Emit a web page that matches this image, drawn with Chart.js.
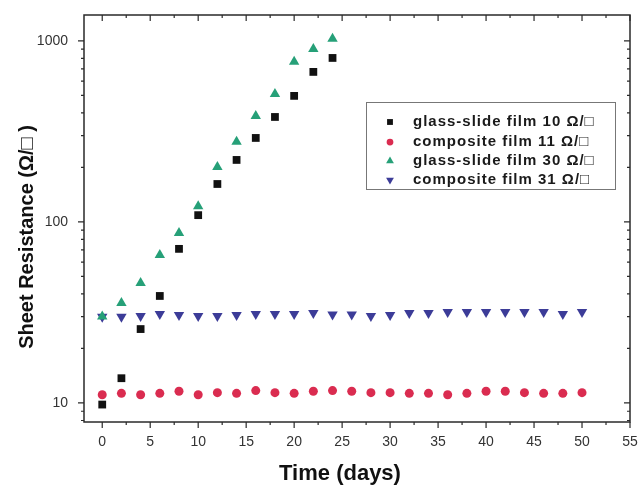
<!DOCTYPE html>
<html>
<head>
<meta charset="utf-8">
<script src="https://cdn.jsdelivr.net/npm/chart.js@4.4.1/dist/chart.umd.min.js"></script>
<style>
  html, body { margin: 0; padding: 0; background: #fff; }
  #wrap { width: 639px; height: 485px; }
</style>
</head>
<body>
<div id="wrap"><canvas id="resChart" width="639" height="485"></canvas></div>
<script>
// dias medidos
const daysShort = [0, 2, 4, 6, 8, 10, 12, 14, 16, 18, 20, 22, 24];
const daysLong = [0, 2, 4, 6, 8, 10, 12, 14, 16, 18, 20, 22, 24, 26, 28, 30, 32, 34, 36, 38, 40, 42, 44, 46, 48, 50];

// resistencia de folha (ohm/sq)
const glass10 = [9.8, 13.7, 25.6, 39, 71, 109, 162, 220, 291, 380, 497, 674, 805];
const glass30 = [30, 35.7, 46, 65.7, 87, 122, 201, 277, 385, 509, 766, 903, 1026];
const comp11 = [11.1, 11.3, 11.1, 11.3, 11.6, 11.1, 11.4, 11.3, 11.7, 11.4, 11.3, 11.6, 11.7,
                11.6, 11.4, 11.4, 11.3, 11.3, 11.1, 11.3, 11.6, 11.6, 11.4, 11.3, 11.3, 11.4];
const comp31 = [29.9, 29.9, 30.2, 31.0, 30.6, 30.2, 30.2, 30.6, 31.0, 31.0, 31.0, 31.4, 30.8,
                30.8, 30.2, 30.6, 31.4, 31.4, 31.8, 31.8, 31.8, 31.8, 31.8, 31.8, 31.0, 31.8];

const seriesNames = ['glass-slide film 10 Ω/□', 'composite film 11 Ω/□', 'glass-slide film 30 Ω/□', 'composite film 31 Ω/□'];
const xTickLabels = [0, 5, 10, 15, 20, 25, 30, 35, 40, 45, 50, 55];
const yTickLabels = [10, 100, 1000];

const toPoints = (xs, ys) => ys.map((y, i) => ({ x: xs[i], y: y }));

const black = '#111111';
const red = '#da2c50';
const green = '#26a078';
const blue = '#3c3c98';

// sem padding extra dos rotulos
const noPad = (s) => { s.paddingLeft = 0; s.paddingRight = 0; s.paddingTop = 0; s.paddingBottom = 0; };

// eixos, ticks de moldura, titulos e legenda
const framePlugin = {
  id: 'frame',
  afterDatasetsDraw(chart) {
    const { ctx, chartArea: a, scales } = chart;
    const xs = scales.x, ys = scales.y;
    ctx.save();
    ctx.strokeStyle = '#2a2a2a';
    ctx.lineWidth = 1.5;
    ctx.strokeRect(a.left, a.top, a.right - a.left, a.bottom - a.top);

    ctx.lineWidth = 1.2;
    ctx.beginPath();
    for (let v = 0; v <= 55; v += 2.5) {
      const px = xs.getPixelForValue(v);
      const len = v % 5 === 0 ? 6 : 3;
      ctx.moveTo(px, a.bottom); ctx.lineTo(px, a.bottom + len);
      ctx.moveTo(px, a.top); ctx.lineTo(px, a.top + len);
    }
    for (let dec = 1; dec <= 1000; dec *= 10) {
      for (let m = 1; m <= 9; m++) {
        const v = dec * m;
        if (v < ys.min || v > ys.max) continue;
        const py = ys.getPixelForValue(v);
        const len = m === 1 ? 6 : 3;
        ctx.moveTo(a.left, py); ctx.lineTo(a.left - len, py);
        ctx.moveTo(a.right, py); ctx.lineTo(a.right - len, py);
      }
    }
    ctx.stroke();

    // titulos
    ctx.fillStyle = '#111';
    ctx.font = 'bold 22px "Liberation Sans", Arial, sans-serif';
    ctx.textAlign = 'center';
    ctx.textBaseline = 'alphabetic';
    ctx.fillText('Time (days)', 340, 480);
    ctx.save();
    ctx.translate(33, 237);
    ctx.rotate(-Math.PI / 2);
    ctx.font = 'bold 20px "Liberation Sans", Arial, sans-serif';
    ctx.fillText('Sheet Resistance (Ω/□ )', 0, 0);
    ctx.restore();

    // legenda
    ctx.fillStyle = '#fff';
    ctx.fillRect(366, 102, 249, 87);
    ctx.strokeStyle = '#777';
    ctx.lineWidth = 1;
    ctx.strokeRect(366.5, 102.5, 249, 87);
    const rows = [122, 142, 161, 180];
    chart.data.datasets.forEach((ds, i) => {
      const y = rows[i];
      ctx.fillStyle = ds.backgroundColor;
      ctx.strokeStyle = ds.backgroundColor;
      Chart.helpers.drawPoint(ctx, {
        pointStyle: ds.pointStyle,
        radius: ds.pointRadius * 0.75,
        rotation: ds.rotation || 0,
        borderWidth: 0
      }, 390, y);
      ctx.fillStyle = '#1a1a1a';
      ctx.font = 'bold 15px "Liberation Sans", Arial, sans-serif';
      ctx.letterSpacing = '1px';
      ctx.textAlign = 'left';
      ctx.textBaseline = 'middle';
      ctx.fillText(ds.label, 413, y);
      ctx.letterSpacing = '0px';
    });
    ctx.restore();
  }
};

const ctx = document.getElementById('resChart').getContext('2d');
const resChart = new Chart(ctx, {
  type: 'scatter',
  data: {
    datasets: [
      { label: seriesNames[0], data: toPoints(daysShort, glass10), pointStyle: 'rect', pointRadius: 5.5, backgroundColor: black, borderColor: black, borderWidth: 0 },
      { label: seriesNames[1], data: toPoints(daysLong, comp11), pointStyle: 'circle', pointRadius: 4.5, backgroundColor: red, borderColor: red, borderWidth: 0 },
      { label: seriesNames[2], data: toPoints(daysShort, glass30), pointStyle: 'triangle', pointRadius: 6, backgroundColor: green, borderColor: green, borderWidth: 0 },
      { label: seriesNames[3], data: toPoints(daysLong, comp31), pointStyle: 'triangle', rotation: 180, pointRadius: 6, backgroundColor: blue, borderColor: blue, borderWidth: 0 }
    ]
  },
  options: {
    responsive: false,
    animation: false,
    layout: { padding: { top: 15, right: 9, left: 0, bottom: 0 } },
    plugins: { legend: { display: false }, tooltip: { enabled: false } },
    scales: {
      x: {
        type: 'linear',
        min: -1.9,
        max: 55,
        afterFit: (s) => { s.height = 63; noPad(s); },
        afterBuildTicks: (s) => { s.ticks = xTickLabels.map((v) => ({ value: v })); },
        grid: { display: false, drawTicks: false },
        border: { display: false },
        ticks: { padding: 12, color: '#333', font: { size: 14, family: '"Liberation Sans", Arial, sans-serif' }, maxRotation: 0 }
      },
      y: {
        type: 'logarithmic',
        min: 7.85,
        max: 1390,
        afterFit: (s) => { s.width = 84; noPad(s); },
        afterBuildTicks: (s) => { s.ticks = yTickLabels.map((v) => ({ value: v })); },
        grid: { display: false, drawTicks: false },
        border: { display: false },
        ticks: { padding: 16, color: '#333', font: { size: 14, family: '"Liberation Sans", Arial, sans-serif' }, callback: (v) => String(v) }
      }
    }
  },
  plugins: [framePlugin]
});
</script>
</body>
</html>
